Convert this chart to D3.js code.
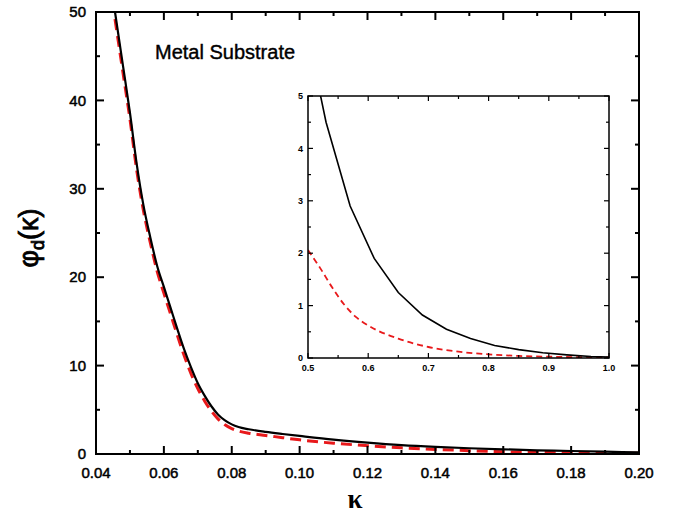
<!DOCTYPE html>
<html>
<head>
<meta charset="utf-8">
<script src="https://cdn.jsdelivr.net/npm/d3@7"></script>
<style>
    body { margin: 0; background: #fff; }
    text { font-family: "Liberation Sans", Arial, sans-serif; fill: #000; }
</style>
</head>
<body>
<svg id="chart" width="673" height="516"></svg>
<script>
// Main plot data
const kappa = [0.0456, 0.048, 0.050, 0.052, 0.054, 0.056, 0.058, 0.060, 0.062, 0.064, 0.066, 0.068,
    0.070, 0.072, 0.074, 0.076, 0.078, 0.080, 0.082, 0.085, 0.090, 0.095, 0.100, 0.110, 0.120,
    0.130, 0.140, 0.150, 0.160, 0.170, 0.180, 0.190, 0.200];
const phiSolid = [50, 43.8, 38.6, 32.8, 28.1, 24.5, 21.3, 18.9, 16.5, 14.1, 11.8, 9.8,
    8.0, 6.6, 5.4, 4.45, 3.8, 3.35, 3.05, 2.8, 2.5, 2.26, 2.04, 1.62, 1.28,
    1.0, 0.8, 0.65, 0.53, 0.42, 0.34, 0.26, 0.18];
const phiDashed = [49.2, 43.0, 37.9, 32.1, 27.5, 23.9, 20.7, 18.2, 15.8, 13.4, 11.1, 9.1,
    7.4, 6.0, 4.85, 3.95, 3.3, 2.88, 2.6, 2.35, 2.1, 1.85, 1.6, 1.22, 0.94,
    0.7, 0.52, 0.38, 0.26, 0.18, 0.13, 0.1, 0.08];

// Inset data
const insetKappaSolid = [0.51, 0.53, 0.57, 0.61, 0.65, 0.69, 0.73, 0.77, 0.81, 0.85, 0.89, 0.93, 0.97, 1.0];
const insetSolid = [5.6, 4.5, 2.9, 1.9, 1.25, 0.82, 0.55, 0.37, 0.24, 0.16, 0.1, 0.06, 0.03, 0.02];
const insetKappaDashed = [0.50, 0.52, 0.54, 0.56, 0.58, 0.60, 0.65, 0.70, 0.75, 0.80, 0.85, 0.90, 0.95, 1.0];
const insetDashed = [2.06, 1.72, 1.35, 1.02, 0.78, 0.62, 0.37, 0.21, 0.12, 0.07, 0.04, 0.025, 0.015, 0.01];

// Tick values
const xTicks = [0.04, 0.06, 0.08, 0.10, 0.12, 0.14, 0.16, 0.18, 0.20];
const yTicks = [0, 10, 20, 30, 40, 50];
const insetXTicks = [0.5, 0.6, 0.7, 0.8, 0.9, 1.0];
const insetYTicks = [0, 1, 2, 3, 4, 5];

const svg = d3.select("svg#chart");

// draws one framed panel with inward ticks on all sides
function panel(g, x, y, opt) {
    const [x0, x1] = x.range();
    const [y0, y1] = y.range();

    g.append("rect")
        .attr("x", x0).attr("y", y1)
        .attr("width", x1 - x0).attr("height", y0 - y1)
        .attr("fill", "none").attr("stroke", "#000").attr("stroke-width", opt.frame);

    const ticks = g.append("g").attr("stroke", "#000").attr("stroke-width", opt.tickW);
    const xMinor = d3.range(opt.xDomain[0], opt.xDomain[1] + 1e-9, opt.xMinorStep);
    xMinor.forEach((v, i) => {
        const len = i % 2 === 0 ? opt.major : opt.minor;
        ticks.append("line").attr("x1", x(v)).attr("x2", x(v)).attr("y1", y0).attr("y2", y0 - len);
        ticks.append("line").attr("x1", x(v)).attr("x2", x(v)).attr("y1", y1).attr("y2", y1 + len);
    });
    const yMinor = d3.range(opt.yDomain[0], opt.yDomain[1] + 1e-9, opt.yMinorStep);
    yMinor.forEach((v, i) => {
        const len = i % 2 === 0 ? opt.major : opt.minor;
        ticks.append("line").attr("y1", y(v)).attr("y2", y(v)).attr("x1", x0).attr("x2", x0 + len);
        ticks.append("line").attr("y1", y(v)).attr("y2", y(v)).attr("x1", x1).attr("x2", x1 - len);
    });

    g.selectAll(".xl").data(opt.xTicks).enter().append("text")
        .attr("x", d => x(d)).attr("y", y0 + opt.xLabelOff)
        .attr("text-anchor", "middle").style("font-size", opt.font + "px")
        .style("font-weight", opt.weight)
        .style("stroke", "#000").style("stroke-width", opt.textStroke)
        .text(d => d3.format(opt.xFmt)(d));
    g.selectAll(".yl").data(opt.yTicks).enter().append("text")
        .attr("x", x0 - opt.yLabelOff).attr("y", d => y(d))
        .attr("dy", "0.35em")
        .attr("text-anchor", "end").style("font-size", opt.font + "px")
        .style("font-weight", opt.weight)
        .style("stroke", "#000").style("stroke-width", opt.textStroke)
        .text(d => d);
}

// Main plot
const x = d3.scaleLinear().domain([0.04, 0.20]).range([96, 639]);
const y = d3.scaleLinear().domain([0, 50]).range([454, 12]);

const mainG = svg.append("g");
svg.append("clipPath").attr("id", "clipMain").append("rect")
    .attr("x", 96).attr("y", 12).attr("width", 543).attr("height", 442);

const line = d3.line().curve(d3.curveMonotoneX).x(d => x(d[0])).y(d => y(d[1]));
mainG.append("path")
    .attr("clip-path", "url(#clipMain)")
    .datum(d3.zip(kappa, phiDashed))
    .attr("d", line)
    .attr("fill", "none").attr("stroke", "#e8191b").attr("stroke-width", 3)
    .attr("stroke-dasharray", "11,6");
mainG.append("path")
    .attr("clip-path", "url(#clipMain)")
    .datum(d3.zip(kappa, phiSolid))
    .attr("d", line)
    .attr("fill", "none").attr("stroke", "#000").attr("stroke-width", 2.2);

panel(mainG, x, y, {
    frame: 2, tickW: 2, major: 8, minor: 4,
    xDomain: [0.04, 0.20], xMinorStep: 0.01,
    yDomain: [0, 50], yMinorStep: 5,
    xTicks: xTicks, yTicks: yTicks, xFmt: ".2f",
    font: 15, weight: "normal", textStroke: 0.5, xLabelOff: 24, yLabelOff: 10
});

mainG.append("text")
    .attr("x", 155).attr("y", 59)
    .style("font-size", "20px")
    .style("stroke", "#000").style("stroke-width", 0.4)
    .text("Metal Substrate");

// axis titles
const yTitle = svg.append("text")
    .attr("transform", "translate(38,238) rotate(-90)")
    .attr("text-anchor", "middle")
    .style("font-size", "27px")
    .style("stroke", "#000").style("stroke-width", 0.8);
yTitle.append("tspan").text("φ");
yTitle.append("tspan").attr("dy", 6).style("font-size", "18px").text("d");
yTitle.append("tspan").attr("dy", -6).text("(κ)");

svg.append("text")
    .attr("x", 355).attr("y", 508)
    .attr("text-anchor", "middle")
    .style("font-family", "'Liberation Serif', serif")
    .style("font-size", "27px")
    .style("font-weight", "bold")
    .text("κ");

// Inset
const xi = d3.scaleLinear().domain([0.5, 1.0]).range([308, 609]);
const yi = d3.scaleLinear().domain([0, 5]).range([358, 96]);

const insetG = svg.append("g");
insetG.append("rect").attr("x", 308).attr("y", 96).attr("width", 301).attr("height", 262).attr("fill", "#fff");
svg.append("clipPath").attr("id", "clipInset").append("rect")
    .attr("x", 308).attr("y", 96).attr("width", 301).attr("height", 262);

const lineI = d3.line().x(d => xi(d[0])).y(d => yi(d[1]));
insetG.append("path")
    .attr("clip-path", "url(#clipInset)")
    .datum(d3.zip(insetKappaDashed, insetDashed))
    .attr("d", lineI.curve(d3.curveMonotoneX))
    .attr("fill", "none").attr("stroke", "#e8191b").attr("stroke-width", 1.8)
    .attr("stroke-dasharray", "6,4");
insetG.append("path")
    .attr("clip-path", "url(#clipInset)")
    .datum(d3.zip(insetKappaSolid, insetSolid))
    .attr("d", lineI.curve(d3.curveLinear))
    .attr("fill", "none").attr("stroke", "#000").attr("stroke-width", 1.6);

panel(insetG, xi, yi, {
    frame: 1.5, tickW: 1.2, major: 5, minor: 3,
    xDomain: [0.5, 1.0], xMinorStep: 0.05,
    yDomain: [0, 5], yMinorStep: 0.5,
    xTicks: insetXTicks, yTicks: insetYTicks, xFmt: ".1f",
    font: 9, weight: "bold", textStroke: 0, xLabelOff: 13, yLabelOff: 5
});
</script>
</body>
</html>
